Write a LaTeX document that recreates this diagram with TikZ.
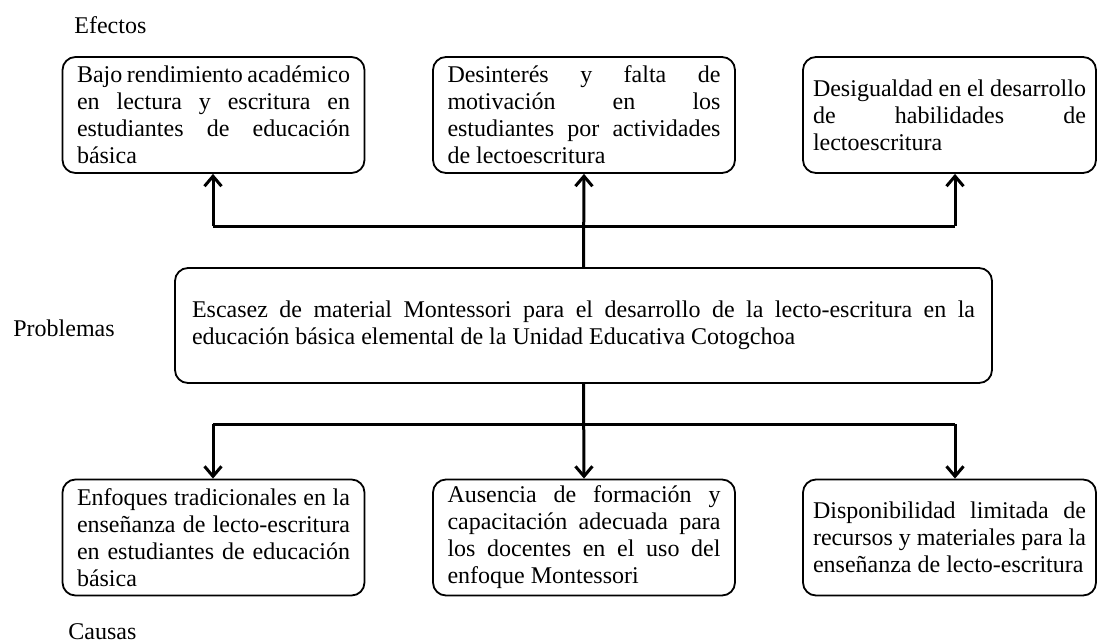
\documentclass[tikz,border=0pt]{standalone}
\usepackage{fontspec}
\setmainfont{Liberation Serif}
\usepackage{tikz}
\usetikzlibrary{arrows.meta, positioning}
\hyphenpenalty=10000
\exhyphenpenalty=10000
\tolerance=10000

\begin{document}
\begin{tikzpicture}[
  x=0.5pt, y=-0.5pt,
  cbox/.style={draw, line width=0.9pt, rounded corners=6.5pt, text width=136.5pt, align=justify, inner xsep=7.25pt, inner ysep=0pt, minimum height=58pt, font=\fontsize{12}{13.5}\selectfont},
  mbox/.style={cbox, text width=391.5pt, inner xsep=8.5pt, minimum height=57.5pt},
  lbl/.style={anchor=west, inner sep=0pt, font=\fontsize{12}{13.5}\selectfont},
  bar/.style={line width=1.5pt},
  conn/.style={bar, -{Straight Barb[length=5pt, width=8.5pt]}}
]
  \useasboundingbox (0,0) rectangle (1097,643);

  % side labels
  \node[lbl] (efectos) at (74,25) {Efectos};
  \node[lbl] (problemas) at (13,328) {Problemas};
  \node[lbl] (causas) at (68,632) {Causas};

  % effects
  \node[cbox] (e1) at (213.5,115) {Bajo rendimiento académico\linebreak en lectura y escritura en\linebreak estudiantes de educación\linebreak básica};
  \node[cbox] (e2) at (584,115) {Desinterés y falta de\linebreak motivación en los\linebreak estudiantes por actividades\linebreak de lectoescritura};
  \node[cbox, inner xsep=5pt] (e3) at (949.5,115) {Desigualdad en el desarrollo\linebreak de habilidades de\linebreak lectoescritura};

  % problem
  \node[mbox] (prob) at (583.5,325.5) {Escasez de material Montessori para el desarrollo de la lecto-escritura en la\linebreak educación básica elemental de la Unidad Educativa Cotogchoa};

  % causes
  \node[cbox] (c1) at (213.5,537.5) {Enfoques tradicionales en la\linebreak enseñanza de lecto-escritura\linebreak en estudiantes de educación\linebreak básica};
  \node[cbox] (c2) at (584,537.5) {Ausencia de formación y\linebreak capacitación adecuada para\linebreak los docentes en el uso del\linebreak enfoque Montessori};
  \node[cbox, inner xsep=5pt] (c3) at (949.5,537.5) {Disponibilidad limitada de\linebreak recursos y materiales para la\linebreak enseñanza de lecto-escritura};

  % branch points
  \coordinate (tl) at (213,226);
  \coordinate (tr) at (955,226);
  \coordinate (bl) at (213,424);
  \coordinate (br) at (955,424);

  \draw[conn] (prob.north) -- (e2.south);
  \draw[bar] (tl) -- (tr);
  \draw[conn] (tl) -- (tl |- e1.south);
  \draw[conn] (tr) -- (tr |- e3.south);

  \draw[conn] (prob.south) -- (c2.north);
  \draw[bar] (bl) -- (br);
  \draw[conn] (bl) -- (bl |- c1.north);
  \draw[conn] (br) -- (br |- c3.north);
\end{tikzpicture}
\end{document}
